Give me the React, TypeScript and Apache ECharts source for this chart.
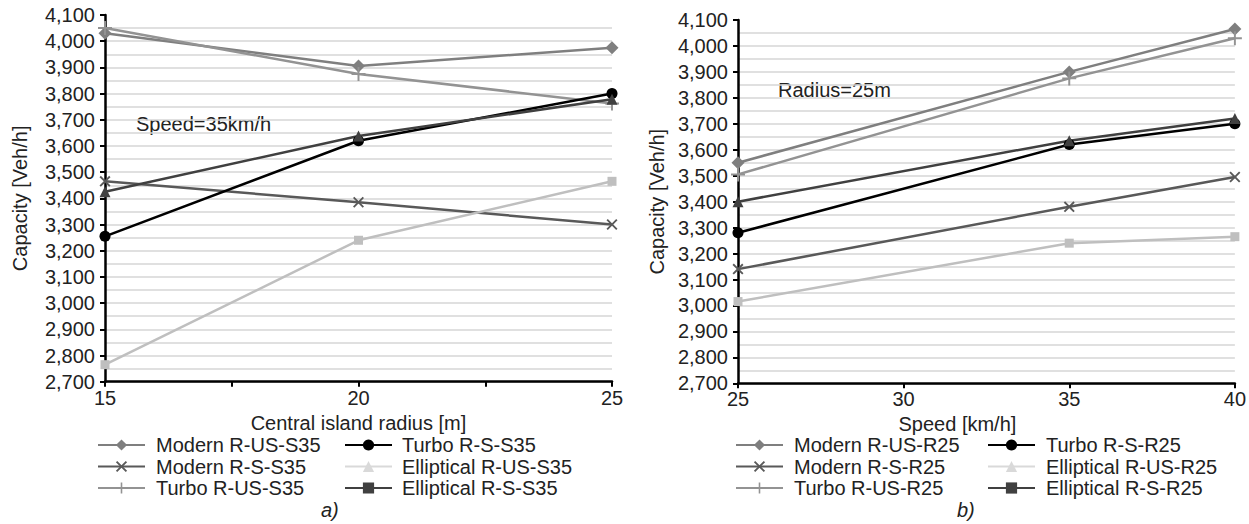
import React, { useEffect, useRef } from "react";
import * as echarts from "echarts";

const radiusX = [15, 20, 25];
const speedX = [25, 35, 40];
const yTicks = [2700, 4100];

const aModernUS = [4030, 3905, 3975];
const aModernS = [3465, 3385, 3300];
const aTurboUS = [4050, 3875, 3762];
const aTurboS = [3255, 3620, 3800];
const aEllUS = [2765, 3240, 3465];
const aEllS = [3425, 3638, 3778];

const bModernUS = [3550, 3900, 4065];
const bModernS = [3140, 3380, 3495];
const bTurboUS = [3505, 3875, 4030];
const bTurboS = [3280, 3620, 3700];
const bEllUS = [3015, 3240, 3265];
const bEllS = [3400, 3635, 3720];

const namesA = ["Modern R-US-S35", "Modern R-S-S35", "Turbo R-US-S35", "Turbo R-S-S35", "Elliptical R-US-S35", "Elliptical R-S-S35"];
const namesB = ["Modern R-US-R25", "Modern R-S-R25", "Turbo R-US-R25", "Turbo R-S-R25", "Elliptical R-US-R25", "Elliptical R-S-R25"];

const FONT = "'Liberation Sans', Arial, sans-serif";
const X_SYM = "path://M1.2,0L5,3.8L8.8,0L10,1.2L6.2,5L10,8.8L8.8,10L5,6.2L1.2,10L0,8.8L3.8,5L0,1.2Z";
const PLUS_SYM = "path://M4.3,0H5.7V4.3H10V5.7H5.7V10H4.3V5.7H0V4.3H4.3Z";

type Style = { color: string; symbol: string; size: number };
const styles: Style[] = [
  { color: "#7f7f7f", symbol: "diamond", size: 13 },
  { color: "#595959", symbol: X_SYM, size: 11 },
  { color: "#939393", symbol: PLUS_SYM, size: 14 },
  { color: "#000000", symbol: "circle", size: 11 },
  { color: "#bfbfbf", symbol: "rect", size: 9 },
  { color: "#404040", symbol: "triangle", size: 11 },
];
const legendOverride: Record<number, Style> = {
  4: { color: "#d9d9d9", symbol: "triangle", size: 11 },
  5: { color: "#404040", symbol: "rect", size: 9 },
};

function buildSeries(names: string[], xs: number[], vals: number[][], idx: number) {
  const out: any[] = [];
  names.forEach((n, i) => {
    const ov = legendOverride[i];
    if (ov) {
      out.push({
        name: n, type: "line", xAxisIndex: idx, yAxisIndex: idx, data: [],
        symbol: ov.symbol, symbolSize: ov.size,
        itemStyle: { color: ov.color }, lineStyle: { color: ov.color, width: 2.5 },
      });
    }
  });
  names.forEach((n, i) => {
    const s = styles[i];
    out.push({
      name: n, type: "line", xAxisIndex: idx, yAxisIndex: idx,
      data: xs.map((x, k) => [x, vals[i][k]]),
      symbol: s.symbol, symbolSize: s.size, showAllSymbol: true,
      itemStyle: { color: s.color }, lineStyle: { color: s.color, width: 2.5 },
      z: 3,
    });
  });
  return out;
}

function legendCol(names: string[], left: number, top: number, gap: number) {
  return {
    data: names, left, top, orient: "vertical", padding: 0,
    itemWidth: 47, itemHeight: 14, itemGap: 1.5, selectedMode: false,
    textStyle: { fontFamily: FONT, fontSize: 20, color: "#222", lineHeight: 20, padding: [0, 0, 0, gap] },
  };
}

function yAxis(idx: number, nameGap: number) {
  return {
    type: "value", gridIndex: idx, min: yTicks[0], max: yTicks[1], interval: 100,
    name: "Capacity [Veh/h]", nameLocation: "middle", nameGap, nameRotate: 90,
    nameTextStyle: { fontFamily: FONT, fontSize: 20, color: "#222" },
    axisLine: { show: true, lineStyle: { color: "#000", width: 2.5 } },
    axisTick: { show: true, length: 5, lineStyle: { color: "#000", width: 2 } },
    axisLabel: {
      fontFamily: FONT, fontSize: 20, color: "#222", margin: 10,
      formatter: (v: number) => v.toLocaleString("en-US"),
    },
    splitLine: { show: true, showMaxLine: false, lineStyle: { color: "#d6d6d6", width: 1.5 } },
    minorTick: { show: false, splitNumber: 2 },
    minorSplitLine: { show: true, lineStyle: { color: "#d6d6d6", width: 1.5 } },
  };
}

export default function App() {
  const ref = useRef<HTMLDivElement>(null);
  useEffect(() => {
    document.body.style.margin = "0";
    const chart = echarts.init(ref.current!, null, { renderer: "svg" });
    const option: any = {
      animation: false,
      backgroundColor: "#fff",
      grid: [
        { left: 105, top: 15, width: 507, height: 366.7 },
        { left: 738, top: 20, width: 499, height: 363.3 },
      ],
      xAxis: [
        {
          type: "value", gridIndex: 0, min: 15, max: 25, interval: 5,
          name: "Central island radius [m]", nameLocation: "middle", nameGap: 26,
          nameTextStyle: { fontFamily: FONT, fontSize: 20, color: "#222" },
          axisLine: { lineStyle: { color: "#000", width: 2.5 } },
          axisTick: { show: true, length: 5, lineStyle: { color: "#000", width: 2 } },
          minorTick: { show: true, splitNumber: 2, length: 5, lineStyle: { color: "#000", width: 2 } },
          axisLabel: { fontFamily: FONT, fontSize: 20, color: "#222", margin: 6 },
          splitLine: { show: false },
        },
        {
          type: "value", gridIndex: 1, min: 25, max: 40, interval: 5,
          name: "Speed [km/h]", nameLocation: "middle", nameGap: 26,
          nameTextStyle: { fontFamily: FONT, fontSize: 20, color: "#222", padding: [0, 58, 0, 0] },
          axisLine: { lineStyle: { color: "#000", width: 2.5 } },
          axisTick: { show: true, length: 5, lineStyle: { color: "#000", width: 2 } },
          axisLabel: { fontFamily: FONT, fontSize: 20, color: "#222", margin: 6 },
          splitLine: { show: false },
        },
      ],
      yAxis: [yAxis(0, 75), yAxis(1, 71)],
      legend: [
        legendCol(namesA.slice(0, 3), 97, 435, 6),
        legendCol(namesA.slice(3), 344, 435, 5),
        legendCol(namesB.slice(0, 3), 735, 435, 6),
        legendCol(namesB.slice(3), 987, 435, 6),
      ],
      graphic: [
        { type: "text", left: 136, top: 114, style: { text: "Speed=35km/h", font: `20px ${FONT}`, fill: "#222" } },
        { type: "text", left: 778, top: 80, style: { text: "Radius=25m", font: `20px ${FONT}`, fill: "#222" } },
        { type: "text", left: 321, top: 500, style: { text: "a)", font: `italic 20px ${FONT}`, fill: "#222" } },
        { type: "text", left: 957, top: 500, style: { text: "b)", font: `italic 20px ${FONT}`, fill: "#222" } },
      ],
      series: [
        ...buildSeries(namesA, radiusX, [aModernUS, aModernS, aTurboUS, aTurboS, aEllUS, aEllS], 0),
        ...buildSeries(namesB, speedX, [bModernUS, bModernS, bTurboUS, bTurboS, bEllUS, bEllS], 1),
      ],
    };
    chart.setOption(option);
    return () => chart.dispose();
  }, []);
  return <div ref={ref} style={{ width: 1249, height: 524 }} />;
}
